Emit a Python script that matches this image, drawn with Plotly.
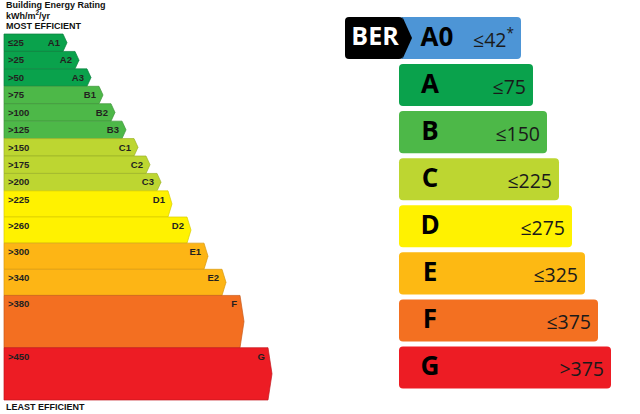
import plotly.graph_objects as go

# ---------------- data ----------------
left_classes = ["A1", "A2", "A3", "B1", "B2", "B3", "C1", "C2", "C3",
                "D1", "D2", "E1", "E2", "F", "G"]
left_thresholds = ["≤25", ">25", ">50", ">75", ">100", ">125", ">150", ">175",
                   ">200", ">225", ">260", ">300", ">340", ">380", ">450"]
left_lengths = [59, 71, 83, 95, 107, 118, 130, 142, 153, 164, 183, 200, 218, 236, 264]
left_row_units = [1, 1, 1, 1, 1, 1, 1, 1, 1, 1.5, 1.5, 1.5, 1.5, 3, 3]

right_classes = ["A0", "A", "B", "C", "D", "E", "F", "G"]
right_limits = ["≤42<sup>*</sup>", "≤75", "≤150", "≤225", "≤275", "≤325", "≤375", ">375"]
right_lengths = [122, 134, 148, 160, 173, 186, 199, 212]

# ---------------- style ----------------
left_colors = {"A": "#0aa24c", "B": "#4db848", "C": "#bdd631", "D": "#fff200",
               "E": "#fdb515", "F": "#f36f21", "G": "#ed1c24"}
left_edges = {"A": "#08803c", "B": "#3d953a", "C": "#9cb228", "D": "#d9cd00",
              "E": "#d89a10", "F": "#c95a1a", "G": "#c3161d"}
right_colors = ["#4d95d6", "#0aa24c", "#4db848", "#bdd631", "#fff200",
                "#fdb913", "#f37021", "#ed1c24"]

TIP = 4
FONT_L = "Liberation Sans, Arial, sans-serif"
FONT_R = "Open Sans, sans-serif"

fig = go.Figure()

# ---------------- left panel ----------------
tops = []
acc = 0.0
for u in left_row_units:
    tops.append(acc)
    acc += u
total_units = acc

for cls, L, t, u in zip(left_classes, left_lengths, tops, left_row_units):
    b = t + u
    m = (t + b) / 2
    key = cls[0]
    fig.add_trace(go.Scatter(
        x=[0, L, L + TIP, L, 0, 0],
        y=[t, t, m, b, b, t],
        mode="lines", fill="toself",
        fillcolor=left_colors[key],
        line=dict(color=left_edges[key], width=0.7),
        hoverinfo="skip", showlegend=False, xaxis="x", yaxis="y"))

label_y = [t + min(u, 1) / 2 + (0.05 if u > 1 else 0.05) for t, u in zip(tops, left_row_units)]
fig.add_trace(go.Scatter(
    x=[4] * len(left_classes), y=label_y,
    text=["<b>%s</b>" % s for s in left_thresholds],
    mode="text", textposition="middle right",
    textfont=dict(family=FONT_L, size=9.5, color="#231f20"),
    hoverinfo="skip", showlegend=False, xaxis="x", yaxis="y"))
fig.add_trace(go.Scatter(
    x=[L - 3 for L in left_lengths], y=label_y,
    text=["<b>%s</b>" % s for s in left_classes],
    mode="text", textposition="middle left",
    textfont=dict(family=FONT_L, size=9.5, color="#231f20"),
    hoverinfo="skip", showlegend=False, xaxis="x", yaxis="y"))

# ---------------- right panel ----------------
rows = list(range(len(right_classes)))
fig.add_trace(go.Bar(
    x=right_lengths, y=rows, base=0, orientation="h", width=0.894,
    marker=dict(color=right_colors, cornerradius=4, line=dict(width=0)),
    hoverinfo="skip", showlegend=False, xaxis="x2", yaxis="y2"))
# black BER badge on the first row
fig.add_trace(go.Bar(
    x=[-58], y=[0], base=4, orientation="h", width=0.894,
    marker=dict(color="#000000", cornerradius=4, line=dict(width=0)),
    hoverinfo="skip", showlegend=False, xaxis="x2", yaxis="y2"))
fig.add_trace(go.Scatter(
    x=[3.5, 13, 3.5, 3.5], y=[-0.447, 0, 0.447, -0.447],
    mode="lines", fill="toself", fillcolor="#000000",
    line=dict(color="#000000", width=0),
    hoverinfo="skip", showlegend=False, xaxis="x2", yaxis="y2"))

fig.add_trace(go.Scatter(
    x=[-24], y=[0.02], text=["<b>BER</b>"], mode="text",
    textposition="middle center",
    textfont=dict(family=FONT_R, size=25, color="#ffffff"),
    hoverinfo="skip", showlegend=False, xaxis="x2", yaxis="y2"))
fig.add_trace(go.Scatter(
    x=[38] + [31] * (len(right_classes) - 1),
    y=[r + 0.03 for r in rows],
    text=["<b>%s</b>" % c for c in right_classes], mode="text",
    textposition="middle center",
    textfont=dict(family=FONT_R, size=26, color="#000000"),
    hoverinfo="skip", showlegend=False, xaxis="x2", yaxis="y2"))
fig.add_trace(go.Scatter(
    x=[L - 7 for L in right_lengths],
    y=[r + 0.08 for r in rows],
    text=right_limits, mode="text",
    textposition="middle left",
    textfont=dict(family=FONT_R, size=19.5, color="#1a1a1a"),
    hoverinfo="skip", showlegend=False, xaxis="x2", yaxis="y2"))

# ---------------- header / footer text ----------------
W, H = 640, 414
for txt, ypx in [("Building Energy Rating", 4.5), ("kWh/m<sup>2</sup>/yr", 15.5),
                 ("MOST EFFICIENT", 25.5), ("LEAST EFFICIENT", 407)]:
    fig.add_annotation(
        text="<b>%s</b>" % txt, xref="paper", yref="paper",
        x=4 / W, y=1 - ypx / H, xanchor="left", yanchor="middle",
        showarrow=False, font=dict(family=FONT_L, size=9, color="#111111"))

px_per_unit = 366 / total_units
top_px = 34
fig.update_layout(
    width=W, height=H, margin=dict(l=0, r=0, t=0, b=0),
    paper_bgcolor="#ffffff", plot_bgcolor="rgba(0,0,0,0)",
    barmode="overlay",
    xaxis=dict(domain=[0, 0.5], range=[-4, 316], visible=False, fixedrange=True),
    yaxis=dict(domain=[0, 1],
               range=[(H - top_px) / px_per_unit, -top_px / px_per_unit],
               visible=False, fixedrange=True),
    xaxis2=dict(domain=[0.5, 1], range=[-79, 241], visible=False, fixedrange=True),
    yaxis2=dict(domain=[0, 1], anchor="x2",
                range=[(H - 38) / 47.07, -38 / 47.07],
                visible=False, fixedrange=True),
)

fig.write_html("out.html", config={"displayModeBar": False},
               post_script="document.body.style.margin='0';document.body.style.overflow='hidden';")
